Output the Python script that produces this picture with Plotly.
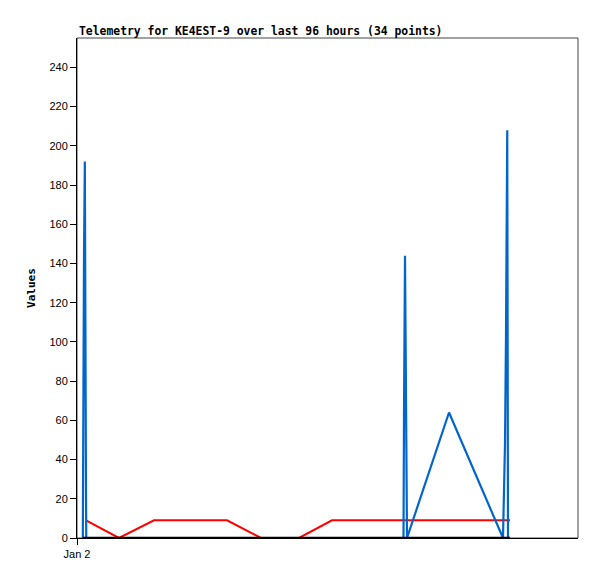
import plotly.graph_objects as go

# Telemetry channels
blue_times = [
    "2024-01-02 00:11:40", "2024-01-02 00:12:00", "2024-01-02 00:14:00",
    "2024-01-02 00:15:40", "2024-01-02 00:16:40", "2024-01-02 00:18:00",
    "2024-01-02 00:18:30",
    "2024-01-02 10:53:00", "2024-01-02 10:54:00", "2024-01-02 10:56:00",
    "2024-01-02 10:58:00", "2024-01-02 11:00:00", "2024-01-02 12:24:00",
    "2024-01-02 14:12:00", "2024-01-02 14:14:00", "2024-01-02 14:16:00",
    "2024-01-02 14:18:00", "2024-01-02 14:20:30", "2024-01-02 14:22:00",
]
blue_values = [0, 48, 144, 192, 24, 24, 0,
               0, 64, 144, 72, 0, 64, 0, 24, 48, 104, 208, 0]

red_times = [
    "2024-01-02 00:18:00", "2024-01-02 01:24:00", "2024-01-02 02:34:00",
    "2024-01-02 05:00:00", "2024-01-02 06:08:00", "2024-01-02 07:24:00",
    "2024-01-02 08:30:00", "2024-01-02 14:26:00",
]
red_values = [9, 0, 9, 9, 0, 0, 9, 9]

black_times = ["2024-01-02 00:11:40", "2024-01-02 14:26:00"]
black_values = [0, 0]

y_ticks = [0, 20, 40, 60, 80, 100, 120, 140, 160, 180, 200, 220, 240]
x_tick = ["2024-01-02 00:00:00"]
x_tick_text = ["Jan 2"]

TITLE = "Telemetry for KE4EST-9 over last 96 hours (34 points)"
MONO = "DejaVu Sans Mono"
SANS = "Liberation Sans"

fig = go.Figure()

# draw order matters: red under blue, black zero line on top
fig.add_trace(go.Scatter(x=red_times, y=red_values, mode="lines",
                         line=dict(color="#ff0000", width=2), showlegend=False))
fig.add_trace(go.Scatter(x=blue_times, y=blue_values, mode="lines",
                         line=dict(color="#0066cc", width=2.2), showlegend=False))
fig.add_trace(go.Scatter(x=black_times, y=black_values, mode="lines",
                         line=dict(color="#000000", width=2.5), showlegend=False))

# frame on top and right
fig.add_shape(type="rect", xref="paper", yref="paper", x0=0, y0=0, x1=1, y1=1,
              line=dict(color="#444444", width=1), layer="below")

fig.add_annotation(text="<b>" + TITLE + "</b>", xref="paper", yref="paper",
                   x=0, y=1.014, xanchor="left", yanchor="middle", showarrow=False,
                   font=dict(family=MONO, size=11.4, color="#000000"))
fig.add_annotation(text="<b>Values</b>", xref="paper", yref="paper",
                   x=-0.092, y=0.5, xanchor="center", yanchor="middle",
                   textangle=-90, showarrow=False,
                   font=dict(family=MONO, size=11, color="#000000"))

# the page body adds ~8px around the figure, so shrink to fit the window
fig.update_layout(
    width=589, height=571,
    margin=dict(l=69, r=19, t=30, b=41),
    paper_bgcolor="white", plot_bgcolor="white",
    showlegend=False,
    xaxis=dict(
        type="date",
        range=["2024-01-02 00:00:00", "2024-01-02 16:42:00"],
        tickvals=x_tick, ticktext=x_tick_text,
        ticks="outside", ticklen=6, tickcolor="#000000",
        showline=True, linecolor="#000000", linewidth=1,
        showgrid=False, zeroline=False,
        tickfont=dict(family=SANS, size=11, color="#000000"),
    ),
    yaxis=dict(
        range=[0, 255],
        tickvals=y_ticks,
        ticks="outside", ticklen=6, tickcolor="#000000",
        showline=True, linecolor="#000000", linewidth=1,
        showgrid=False, zeroline=False,
        tickfont=dict(family=SANS, size=11, color="#000000"),
    ),
)

fig.write_html("out.html")
